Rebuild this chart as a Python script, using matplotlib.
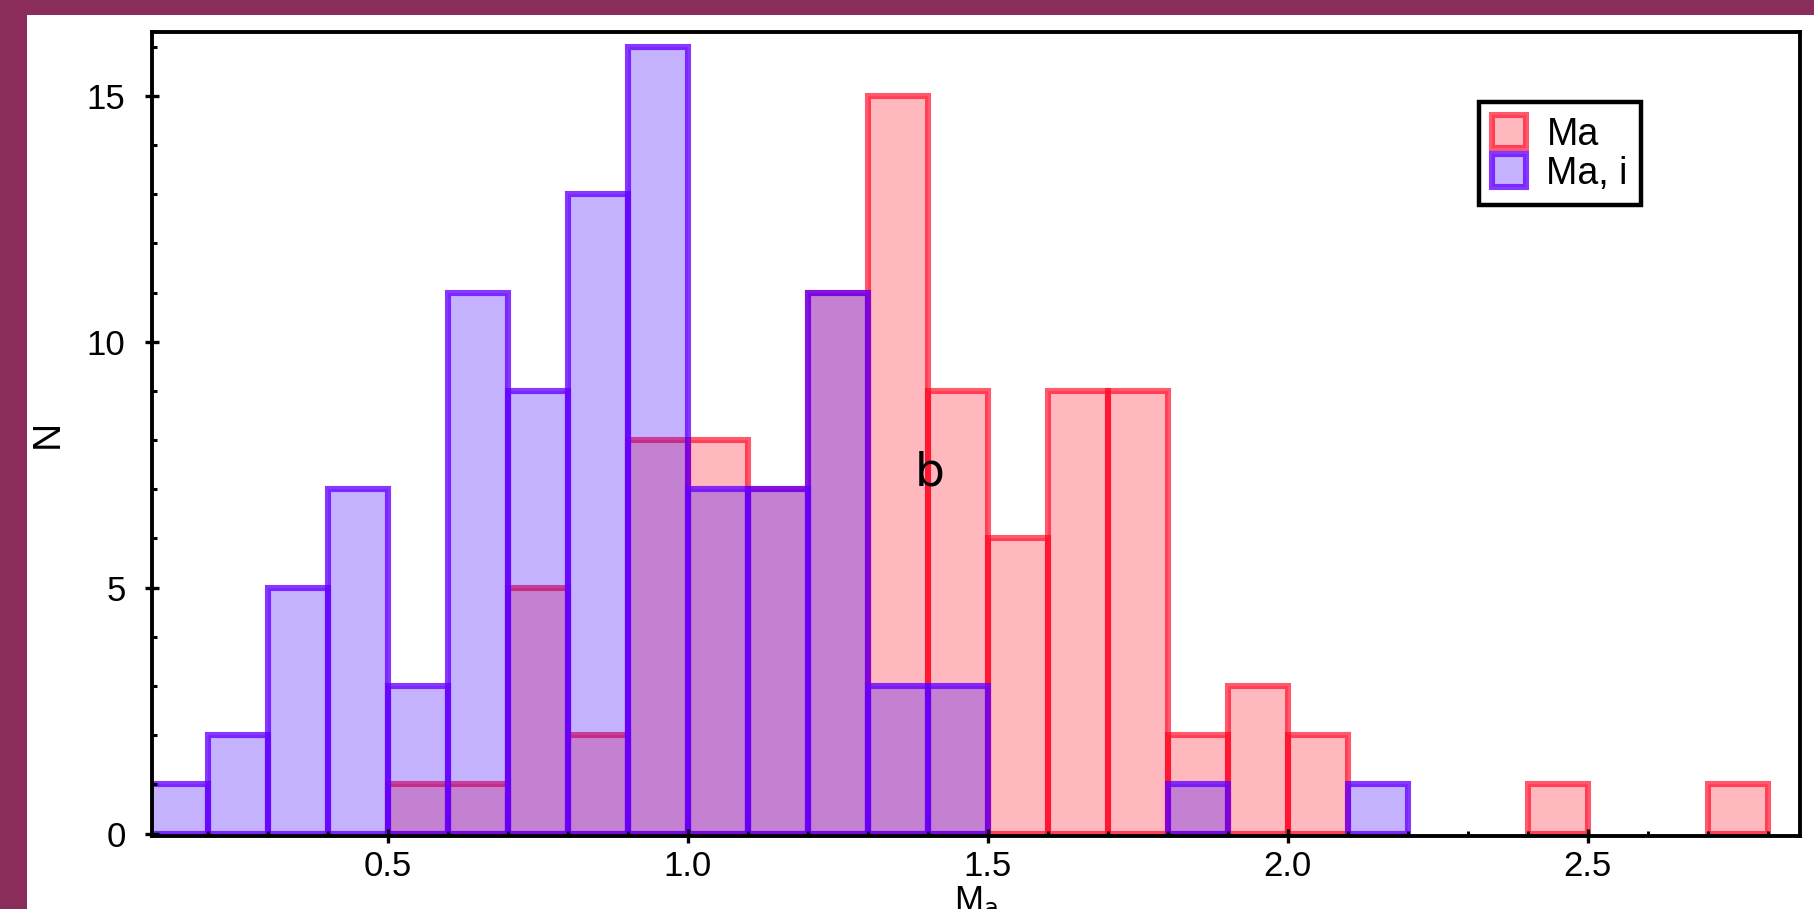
import matplotlib
matplotlib.use("Agg")
import matplotlib.pyplot as plt
from matplotlib.patches import Rectangle
from matplotlib.ticker import MultipleLocator, FormatStrFormatter

# bin left edges, width 0.1, from 0.1 to 2.7
bin_left = [round(0.1 + 0.1 * i, 1) for i in range(27)]
bin_width = 0.1

# counts per bin
ma_counts = [0, 0, 0, 0, 1, 1, 5, 2, 8, 8, 7, 11, 15, 9, 6, 9, 9, 2, 3, 2,
             0, 0, 0, 1, 0, 0, 1]
mai_counts = [1, 2, 5, 7, 3, 11, 9, 13, 16, 7, 7, 11, 3, 3, 0, 0, 0, 1, 0, 0,
              1, 0, 0, 0, 0, 0, 0]

series_labels = ["Ma", "Ma, i"]
x_ticks = [0.5, 1.0, 1.5, 2.0, 2.5]
y_ticks = [0, 5, 10, 15]

W, H = 1815, 909
fig = plt.figure(figsize=(W / 100, H / 100), dpi=100)
fig.patch.set_facecolor("#8b2d5a")
# white slide area
fig.patches.append(Rectangle((27 / W, 0), 1 - 27 / W, 1 - 15 / H,
                             transform=fig.transFigure, facecolor="white",
                             edgecolor="none", zorder=-5))

ax = fig.add_axes([152 / W, 1 - 836 / H, (1800 - 152) / W, (836 - 32) / H])
ax.set_zorder(2)
ax.set_facecolor("white")

red_face = (1.0, 0.0, 0.07, 0.275)
red_edge = (1.0, 0.0, 0.12, 0.65)
pur_face = (0.25, 0.0, 1.0, 0.3)
pur_edge = (0.4, 0.0, 1.0, 0.78)

def draw(counts, face, edge, label):
    xs = [x for x, c in zip(bin_left, counts) if c > 0]
    hs = [c for c in counts if c > 0]
    ax.bar(xs, hs, width=bin_width, align="edge", facecolor=face,
           edgecolor=edge, linewidth=4.4, label=label)

draw(ma_counts, red_face, red_edge, series_labels[0])
draw(mai_counts, pur_face, pur_edge, series_labels[1])

ax.set_xlim(0.107, 2.854)
ax.set_ylim(-0.05, 16.3)

ax.xaxis.set_major_locator(plt.FixedLocator(x_ticks))
ax.xaxis.set_major_formatter(FormatStrFormatter("%.1f"))
ax.xaxis.set_minor_locator(MultipleLocator(0.1))
ax.yaxis.set_major_locator(plt.FixedLocator(y_ticks))
ax.yaxis.set_minor_locator(MultipleLocator(1))

for s in ax.spines.values():
    s.set_linewidth(2.8)
ax.tick_params(which="major", direction="inout", length=10, width=2.4,
               labelsize=25, top=False, right=False)
ax.tick_params(which="minor", direction="in", length=3.8, width=2.2,
               top=False, right=False)
ax.tick_params(axis="y", which="major", pad=14)
ax.tick_params(axis="x", which="major", pad=5)
for lab in ax.get_xticklabels() + ax.get_yticklabels():
    lab.set_family("Liberation Sans")

ax.set_xlabel("M$_\\mathrm{a}$", fontsize=25, family="Liberation Sans")
ax.xaxis.set_label_coords(0.5, -(885 - 836) / 804)
ax.set_ylabel("N", fontsize=28, family="Liberation Sans")
ax.yaxis.set_label_coords(-(152 - 66) / 1648, 0.5)

ax.text(1.404, 7.07, "b", fontsize=34, ha="center", va="baseline",
        family="DejaVu Sans")

leg = ax.legend(loc="upper left", bbox_to_anchor=(1479 / W, 1 - 102 / H),
                bbox_transform=fig.transFigure, borderaxespad=0,
                prop={"family": "Liberation Sans", "size": 27},
                handlelength=0.9, handleheight=0.98, labelspacing=0.05,
                handletextpad=0.55, borderpad=0.35, fancybox=False,
                framealpha=1, edgecolor="black")
leg.get_frame().set_linewidth(3.2)

fig.savefig("out.png", dpi=100, facecolor=fig.get_facecolor())
